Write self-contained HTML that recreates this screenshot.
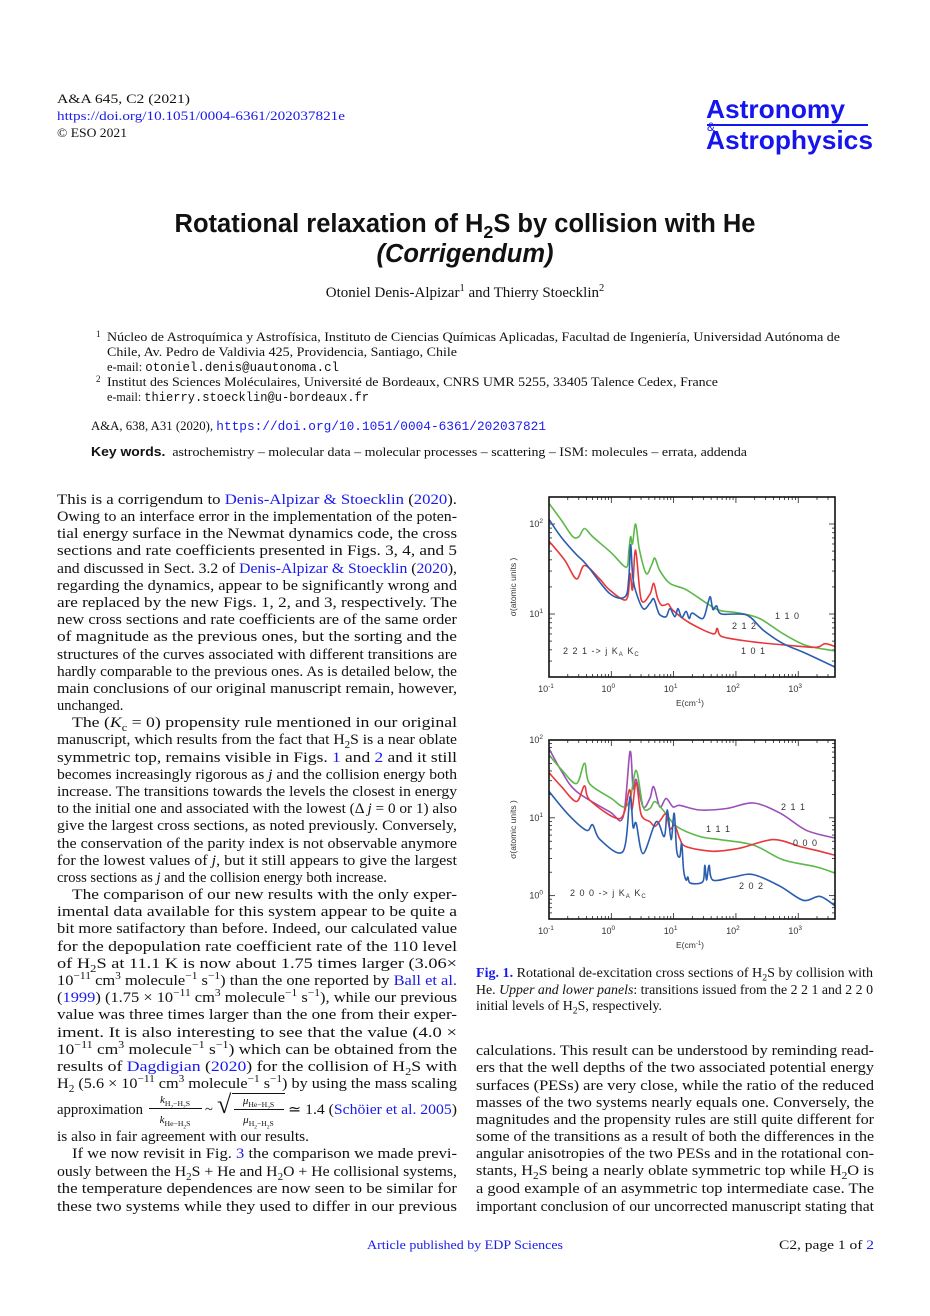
<!DOCTYPE html>
<html><head><meta charset="utf-8">
<style>
html,body{margin:0;padding:0;background:#fff;}
body{width:930px;height:1316px;position:relative;overflow:hidden;font-family:"Liberation Serif",serif;color:#111;}
.a{position:absolute;white-space:nowrap;line-height:18px;}
.fit{display:inline-block;transform-origin:0 50%;}
.b{font-size:14.5px;}
.lk{color:#1a1aee;}
.sm{font-size:13px;}
sub,sup{font-size:70%;line-height:0;}
.mono{font-family:"Liberation Mono",monospace;}
.sans{font-family:"Liberation Sans",sans-serif;}
.fr{position:absolute;font-size:11px;line-height:12px;text-align:center;}
</style></head>
<body>

<div class="a sm" style="left:57px;top:90px"><span class="fit" data-w="133">A&amp;A 645, C2 (2021)</span></div>
<div class="a sm lk" style="left:57px;top:107px"><span class="fit" data-w="288">https://doi.org/10.1051/0004-6361/202037821e</span></div>
<div class="a sm" style="left:57px;top:124px"><span class="fit" data-w="70">© ESO 2021</span></div>

<div>
<div class="a sans" style="left:706px;top:95px;font-size:26px;line-height:28px;color:#1515ee;font-weight:bold"><span class="fit" data-w="139">Astronomy</span></div>
<div style="position:absolute;left:707px;top:124px;width:161px;height:2px;background:#1515ee"></div>
<div class="a sans" style="left:707px;top:118px;font-size:12px;color:#1515ee">&amp;</div>
<div class="a sans" style="left:706px;top:126px;font-size:26px;line-height:28px;color:#1515ee;font-weight:bold"><span class="fit" data-w="167">Astrophysics</span></div>
</div>

<div class="a sans" style="left:0;width:930px;text-align:center;top:209px;font-size:25.5px;line-height:30px;font-weight:bold">Rotational relaxation of H<sub>2</sub>S by collision with He</div>
<div class="a sans" style="left:0;width:930px;text-align:center;top:239px;font-size:25.5px;line-height:30px;font-weight:bold;font-style:italic">(Corrigendum)</div>
<div class="a" style="left:0;width:930px;text-align:center;top:284px;font-size:15px">Otoniel Denis-Alpizar<sup>1</sup> and Thierry Stoecklin<sup>2</sup></div>

<div>
<div class="a" style="left:96px;top:325px;font-size:9px">1</div>
<div class="a sm" style="left:107px;top:328px"><span class="fit" data-w="733">Núcleo de Astroquímica y Astrofísica, Instituto de Ciencias Químicas Aplicadas, Facultad de Ingeniería, Universidad Autónoma de</span></div>
<div class="a sm" style="left:107px;top:343px"><span class="fit" data-w="350">Chile, Av. Pedro de Valdivia 425, Providencia, Santiago, Chile</span></div>
<div class="a sm" style="left:107px;top:358px"><span class="fit" data-w="232">e-mail: <span class="mono">otoniel.denis@uautonoma.cl</span></span></div>
<div class="a" style="left:96px;top:370px;font-size:9px">2</div>
<div class="a sm" style="left:107px;top:373px"><span class="fit" data-w="611">Institut des Sciences Moléculaires, Université de Bordeaux, CNRS UMR 5255, 33405 Talence Cedex, France</span></div>
<div class="a sm" style="left:107px;top:388px"><span class="fit" data-w="262">e-mail: <span class="mono">thierry.stoecklin@u-bordeaux.fr</span></span></div>
</div>
<div class="a sm" style="left:91px;top:417px"><span class="fit" data-w="455">A&amp;A, 638, A31 (2020), <span class="mono lk">https://doi.org/10.1051/0004-6361/202037821</span></span></div>
<div class="a sm" style="left:91px;top:443px"><span class="fit" data-w="656"><b class="sans">Key words.</b>&nbsp; astrochemistry – molecular data – molecular processes – scattering – ISM: molecules – errata, addenda</span></div>

<div>
<div class="a b" style="left:57px;top:491px"><span class="fit" data-w="400">This is a corrigendum to <span class="lk">Denis-Alpizar &amp; Stoecklin</span> (<span class="lk">2020</span>).</span></div>
<div class="a b" style="left:57px;top:508px"><span class="fit" data-w="400">Owing to an interface error in the implementation of the poten-</span></div>
<div class="a b" style="left:57px;top:525px"><span class="fit" data-w="400">tial energy surface in the Newmat dynamics code, the cross</span></div>
<div class="a b" style="left:57px;top:542px"><span class="fit" data-w="400">sections and rate coefficients presented in Figs. 3, 4, and 5</span></div>
<div class="a b" style="left:57px;top:560px"><span class="fit" data-w="400">and discussed in Sect. 3.2 of <span class="lk">Denis-Alpizar &amp; Stoecklin</span> (<span class="lk">2020</span>),</span></div>
<div class="a b" style="left:57px;top:577px"><span class="fit" data-w="400">regarding the dynamics, appear to be significantly wrong and</span></div>
<div class="a b" style="left:57px;top:594px"><span class="fit" data-w="400">are replaced by the new Figs. 1, 2, and 3, respectively. The</span></div>
<div class="a b" style="left:57px;top:611px"><span class="fit" data-w="400">new cross sections and rate coefficients are of the same order</span></div>
<div class="a b" style="left:57px;top:628px"><span class="fit" data-w="400">of magnitude as the previous ones, but the sorting and the</span></div>
<div class="a b" style="left:57px;top:646px"><span class="fit" data-w="400">structures of the curves associated with different transitions are</span></div>
<div class="a b" style="left:57px;top:663px"><span class="fit" data-w="400">hardly comparable to the previous ones. As is detailed below, the</span></div>
<div class="a b" style="left:57px;top:680px"><span class="fit" data-w="400">main conclusions of our original manuscript remain, however,</span></div>
<div class="a b" style="left:57px;top:697px">unchanged.</div>
<div class="a b" style="left:72px;top:714px"><span class="fit" data-w="385">The (<i>K</i><sub>c</sub> = 0) propensity rule mentioned in our original</span></div>
<div class="a b" style="left:57px;top:731px"><span class="fit" data-w="400">manuscript, which results from the fact that H<sub>2</sub>S is a near oblate</span></div>
<div class="a b" style="left:57px;top:749px"><span class="fit" data-w="400">symmetric top, remains visible in Figs. <span class="lk">1</span> and <span class="lk">2</span> and it still</span></div>
<div class="a b" style="left:57px;top:766px"><span class="fit" data-w="400">becomes increasingly rigorous as <i>j</i> and the collision energy both</span></div>
<div class="a b" style="left:57px;top:783px"><span class="fit" data-w="400">increase. The transitions towards the levels the closest in energy</span></div>
<div class="a b" style="left:57px;top:800px"><span class="fit" data-w="400">to the initial one and associated with the lowest (Δ <i>j</i> = 0 or 1) also</span></div>
<div class="a b" style="left:57px;top:817px"><span class="fit" data-w="400">give the largest cross sections, as noted previously. Conversely,</span></div>
<div class="a b" style="left:57px;top:835px"><span class="fit" data-w="400">the conservation of the parity index is not observable anymore</span></div>
<div class="a b" style="left:57px;top:852px"><span class="fit" data-w="400">for the lowest values of <i>j</i>, but it still appears to give the largest</span></div>
<div class="a b" style="left:57px;top:869px">cross sections as <i>j</i> and the collision energy both increase.</div>
<div class="a b" style="left:72px;top:886px"><span class="fit" data-w="385">The comparison of our new results with the only exper-</span></div>
<div class="a b" style="left:57px;top:903px"><span class="fit" data-w="400">imental data available for this system appear to be quite a</span></div>
<div class="a b" style="left:57px;top:920px"><span class="fit" data-w="400">bit more satifactory than before. Indeed, our calculated value</span></div>
<div class="a b" style="left:57px;top:938px"><span class="fit" data-w="400">for the depopulation rate coefficient rate of the 110 level</span></div>
<div class="a b" style="left:57px;top:955px"><span class="fit" data-w="400">of H<sub>2</sub>S at 11.1 K is now about 1.75 times larger (3.06×</span></div>
<div class="a b" style="left:57px;top:972px"><span class="fit" data-w="400">10<sup>−11</sup> cm<sup>3</sup> molecule<sup>−1</sup> s<sup>−1</sup>) than the one reported by <span class="lk">Ball et al.</span></span></div>
<div class="a b" style="left:57px;top:989px"><span class="fit" data-w="400">(<span class="lk">1999</span>) (1.75 × 10<sup>−11</sup> cm<sup>3</sup> molecule<sup>−1</sup> s<sup>−1</sup>), while our previous</span></div>
<div class="a b" style="left:57px;top:1006px"><span class="fit" data-w="400">value was three times larger than the one from their exper-</span></div>
<div class="a b" style="left:57px;top:1024px"><span class="fit" data-w="400">iment. It is also interesting to see that the value (4.0 ×</span></div>
<div class="a b" style="left:57px;top:1041px"><span class="fit" data-w="400">10<sup>−11</sup> cm<sup>3</sup> molecule<sup>−1</sup> s<sup>−1</sup>) which can be obtained from the</span></div>
<div class="a b" style="left:57px;top:1058px"><span class="fit" data-w="400">results of <span class="lk">Dagdigian</span> (<span class="lk">2020</span>) for the collision of H<sub>2</sub>S with</span></div>
<div class="a b" style="left:57px;top:1075px"><span class="fit" data-w="400">H<sub>2</sub> (5.6 × 10<sup>−11</sup> cm<sup>3</sup> molecule<sup>−1</sup> s<sup>−1</sup>) by using the mass scaling</span></div>
<div>
<div class="a b" style="left:57px;top:1101px"><span class="fit" data-w="86">approximation</span></div>
<div class="fr" style="left:146px;top:1094px;width:58px"><i>k</i><sub>H<sub>2</sub>−H<sub>2</sub>S</sub></div>
<div style="position:absolute;left:149px;top:1108px;width:53px;height:1px;background:#111"></div>
<div class="fr" style="left:146px;top:1114px;width:58px"><i>k</i><sub>He−H<sub>2</sub>S</sub></div>
<div class="a b" style="left:205px;top:1101px">~</div>
<div class="a" style="left:217px;top:1090px;font-size:26px;line-height:30px">√</div>
<div style="position:absolute;left:232px;top:1093px;width:53px;height:1px;background:#111"></div>
<div class="fr" style="left:230px;top:1095px;width:57px"><i>μ</i><sub>He−H<sub>2</sub>S</sub></div>
<div style="position:absolute;left:234px;top:1109px;width:50px;height:1px;background:#111"></div>
<div class="fr" style="left:230px;top:1114px;width:57px"><i>μ</i><sub>H<sub>2</sub>−H<sub>2</sub>S</sub></div>
<div class="a b" style="left:288px;top:1101px"><span class="fit" data-w="169">≃ 1.4 (<span class="lk">Schöier et al. 2005</span>)</span></div>
</div>
<div class="a b" style="left:57px;top:1128px"><span class="fit" data-w="252">is also in fair agreement with our results.</span></div>
<div class="a b" style="left:72px;top:1145px"><span class="fit" data-w="385">If we now revisit in Fig. <span class="lk">3</span> the comparison we made previ-</span></div>
<div class="a b" style="left:57px;top:1163px"><span class="fit" data-w="400">ously between the H<sub>2</sub>S + He and H<sub>2</sub>O + He collisional systems,</span></div>
<div class="a b" style="left:57px;top:1180px"><span class="fit" data-w="400">the temperature dependences are now seen to be similar for</span></div>
<div class="a b" style="left:57px;top:1198px"><span class="fit" data-w="400">these two systems while they used to differ in our previous</span></div>
</div>

<div>
<div class="a" style="left:476px;top:964px;font-size:13.5px"><span class="fit" data-w="397"><b class="lk">Fig. 1.</b> Rotational de-excitation cross sections of H<sub>2</sub>S by collision with</span></div>
<div class="a" style="left:476px;top:981px;font-size:13.5px"><span class="fit" data-w="397">He. <i>Upper and lower panels</i>: transitions issued from the 2 2 1 and 2 2 0</span></div>
<div class="a" style="left:476px;top:997px;font-size:13.5px"><span class="fit" data-w="186">initial levels of H<sub>2</sub>S, respectively.</span></div>
</div>
<div>
<div class="a b" style="left:476px;top:1042px"><span class="fit" data-w="398">calculations. This result can be understood by reminding read-</span></div>
<div class="a b" style="left:476px;top:1059px"><span class="fit" data-w="398">ers that the well depths of the two associated potential energy</span></div>
<div class="a b" style="left:476px;top:1077px"><span class="fit" data-w="398">surfaces (PESs) are very close, while the ratio of the reduced</span></div>
<div class="a b" style="left:476px;top:1094px"><span class="fit" data-w="398">masses of the two systems nearly equals one. Conversely, the</span></div>
<div class="a b" style="left:476px;top:1111px"><span class="fit" data-w="398">magnitudes and the propensity rules are still quite different for</span></div>
<div class="a b" style="left:476px;top:1128px"><span class="fit" data-w="398">some of the transitions as a result of both the differences in the</span></div>
<div class="a b" style="left:476px;top:1145px"><span class="fit" data-w="398">angular anisotropies of the two PESs and in the rotational con-</span></div>
<div class="a b" style="left:476px;top:1162px"><span class="fit" data-w="398">stants, H<sub>2</sub>S being a nearly oblate symmetric top while H<sub>2</sub>O is</span></div>
<div class="a b" style="left:476px;top:1180px"><span class="fit" data-w="398">a good example of an asymmetric top intermediate case. The</span></div>
<div class="a b" style="left:476px;top:1198px"><span class="fit" data-w="398">important conclusion of our uncorrected manuscript stating that</span></div>
</div>

<div class="a sm lk" style="left:367px;top:1236px"><span class="fit" data-w="196">Article published by EDP Sciences</span></div>
<div class="a sm" style="left:779px;top:1236px"><span class="fit" data-w="95">C2, page 1 of <span class="lk">2</span></span></div>

<svg id="charts" width="930" height="1316" style="position:absolute;left:0;top:0" xmlns="http://www.w3.org/2000/svg"></svg>

<script>
// ---- data (log10 E [cm^-1], log10 sigma [a.u.]) ----
const top110LogE = [-1,-0.8,-0.62,-0.52,-0.43,-0.3,0,0.24,0.28,0.31,0.34,0.39,0.45,0.56,0.65,0.70,0.78,0.94,1.2,1.53,1.74,2.06,2.38,2.76,3.13,3.59];
const top110LogS = [2.23,2.04,1.86,1.86,1.95,1.86,1.68,1.52,1.70,1.86,1.78,2.0,1.72,1.45,1.55,1.62,1.48,1.34,1.27,1.12,1.04,1.01,0.95,0.78,0.65,0.59];
const top212LogE = [-1,-0.8,-0.56,-0.4,-0.03,0.22,0.28,0.31,0.34,0.38,0.51,0.62,0.68,0.74,0.78,0.88,0.94,1.02,1.07,1.13,1.2,1.25,1.3,1.47,1.55,1.59,1.63,1.69,1.77,2.17,2.44,2.76,3.13,3.59];
const top212LogS = [2.05,1.85,1.66,1.55,1.23,1.19,1.4,1.77,1.45,1.28,1.06,1.12,1.17,1.05,0.99,0.97,1.06,0.97,1.06,0.96,1.03,0.95,1.01,0.95,1.12,1.19,1.05,1.09,1.0,0.99,0.82,0.67,0.56,0.41];
const top101LogE = [-1,-0.75,-0.56,-0.43,-0.2,-0.03,0.24,0.30,0.34,0.39,0.48,0.62,0.68,0.74,0.80,0.86,0.92,0.99,1.26,1.63,1.70,1.77,2.28,2.87,3.29,3.43,3.59];
const top101LogS = [1.81,1.60,1.39,1.54,1.40,1.27,1.16,1.45,1.27,1.71,1.16,1.22,1.34,1.18,1.10,1.10,1.11,1.04,0.90,0.78,0.84,0.75,0.69,0.65,0.63,0.67,0.64];
const bot211LogE = [-1,-0.8,-0.56,-0.03,0.19,0.30,0.35,0.40,0.51,0.62,0.68,0.78,0.88,0.99,1.10,1.42,1.85,2.28,2.71,3.13,3.59];
const bot211LogS = [1.89,1.60,1.34,1.08,1.01,1.85,1.38,1.49,1.14,1.25,1.40,1.14,1.25,1.14,1.16,1.10,1.12,1.19,1.06,0.84,0.74];
const bot111LogE = [-1,-0.8,-0.56,-0.43,-0.35,0,0.19,0.30,0.40,0.51,0.62,0.70,0.83,1.05,1.42,1.74,2.28,2.76,3.29,3.59];
const bot111LogS = [1.81,1.62,1.44,1.70,1.44,1.25,1.14,1.23,1.61,1.14,1.12,1.21,1.10,0.89,0.76,0.72,0.65,0.46,0.37,0.29];
const bot000LogE = [-1,-0.8,-0.56,-0.43,-0.35,0.14,0.29,0.33,0.40,0.48,0.62,0.70,0.78,0.88,0.94,1.02,1.10,1.2,1.63,2.06,2.6,3.03,3.35,3.59];
const bot000LogS = [1.58,1.40,1.21,1.41,1.23,0.99,1.36,1.10,1.45,1.04,0.95,0.89,0.96,1.05,0.86,0.90,0.73,0.63,0.57,0.61,0.72,0.63,0.57,0.52];
const bot202LogE = [-1,-0.7,-0.40,-0.30,-0.18,0.19,0.30,0.35,0.40,0.51,0.72,0.85,0.90,0.96,1.01,1.05,1.10,1.13,1.16,1.2,1.23,1.27,1.47,1.50,1.53,1.57,1.63,1.96,2.28,2.71,3.08,3.35,3.59];
const bot202LogS = [1.34,1.05,0.84,0.91,0.72,0.57,1.27,0.88,0.93,0.54,0.95,0.76,1.10,0.72,1.06,0.58,0.50,0.67,0.33,0.20,0.24,0.16,0.18,0.39,0.20,0.39,0.20,0.24,0.27,0.12,-0.06,-0.01,-0.13];
const xTickExp = [-1,0,1,2,3];
const topYTickExp = [1,2];
const botYTickExp = [0,1,2];

const NS='http://www.w3.org/2000/svg';
const svg=document.getElementById('charts');
function mk(tag,attrs,parent){const e=document.createElementNS(NS,tag);for(const k in attrs)e.setAttribute(k,attrs[k]);(parent||svg).appendChild(e);return e;}
const X0=549,X1=835,XMIN=-1,XMAX=3.59;
function xs(v){return X0+(v-XMIN)*(X1-X0)/(XMAX-XMIN);}
function smoothPath(P){
  let d='M'+P[0][0].toFixed(1)+','+P[0][1].toFixed(1);
  for(let i=0;i<P.length-1;i++){
    const p0=P[Math.max(0,i-1)],p1=P[i],p2=P[i+1],p3=P[Math.min(P.length-1,i+2)];
    const t=0.16;
    const c1=[p1[0]+(p2[0]-p0[0])*t,p1[1]+(p2[1]-p0[1])*t];
    const c2=[p2[0]-(p3[0]-p1[0])*t,p2[1]-(p3[1]-p1[1])*t];
    c1[0]=Math.min(Math.max(c1[0],p1[0]),p2[0]);c2[0]=Math.min(Math.max(c2[0],p1[0]),p2[0]);
    d+=' C'+c1[0].toFixed(1)+','+c1[1].toFixed(1)+' '+c2[0].toFixed(1)+','+c2[1].toFixed(1)+' '+p2[0].toFixed(1)+','+p2[1].toFixed(1);
  }
  return d;
}

function panel(name,top,bot,ymin,ymax,yTicks,series,labels){
  const g=mk('g',{});
  
  
  const ys=v=>bot-(v-ymin)*(bot-top)/(ymax-ymin);
  for(let d=-1;d<=3;d++){for(let k=1;k<=9;k++){const v=d+Math.log10(k);if(v<XMIN||v>XMAX)continue;const L=k===1?6:3;const x=xs(v);
    mk('line',{x1:x,x2:x,y1:bot,y2:bot-L,stroke:'#222','stroke-width':0.8},g);mk('line',{x1:x,x2:x,y1:top,y2:top+L,stroke:'#222','stroke-width':0.8},g);}}
  for(let d=-1;d<=2;d++){for(let k=1;k<=9;k++){const v=d+Math.log10(k);if(v<ymin||v>ymax)continue;const L=k===1?6:3;const y=ys(v);
    mk('line',{x1:X0,x2:X0+L,y1:y,y2:y,stroke:'#222','stroke-width':0.8},g);mk('line',{x1:X1,x2:X1-L,y1:y,y2:y,stroke:'#222','stroke-width':0.8},g);}}
  series.forEach(s=>{
    const P=s.e.map((v,i)=>[xs(v),ys(s.s[i])]);
    const p=mk('path',{d:smoothPath(P),fill:'none',stroke:s.c,'stroke-width':1.6,'stroke-linejoin':'round'},g);
    
    
  });
  mk('rect',{x:X0,y:top,width:X1-X0,height:bot-top,fill:'none',stroke:'#111','stroke-width':1.6},g);
  xTickExp.forEach(ex=>{const t=mk('text',{x:xs(ex)-3,y:bot+15,'font-size':9,'font-family':'Liberation Sans, sans-serif',fill:'#333','text-anchor':'middle'},g);
    
    
    t.appendChild(document.createTextNode('10'));const sp=mk('tspan',{dy:-4,'font-size':6.5},t);sp.textContent=String(ex);});
  yTicks.forEach(ex=>{const t=mk('text',{x:X0-6,y:ys(ex)+3,'font-size':9,'font-family':'Liberation Sans, sans-serif',fill:'#333','text-anchor':'end'},g);
    
    
    t.appendChild(document.createTextNode('10'));const sp=mk('tspan',{dy:-4,'font-size':6.5},t);sp.textContent=String(ex);});
  const xt=mk('text',{x:690,y:bot+29,'font-size':8.5,'font-family':'Liberation Sans, sans-serif',fill:'#333','text-anchor':'middle'},g);
  
  
  xt.appendChild(document.createTextNode('E(cm'));const sx=mk('tspan',{dy:-3,'font-size':6},xt);sx.textContent='-1';const sx2=mk('tspan',{dy:3},xt);sx2.textContent=')';
  const cy=(top+bot)/2;
  const yt=mk('text',{x:516,y:cy,'font-size':8.5,'font-family':'Liberation Sans, sans-serif',fill:'#333','text-anchor':'middle',transform:'rotate(-90 516 '+cy+')'},g);
  
  
  yt.textContent='σ(atomic units )';
  labels.forEach(l=>{const t=mk('text',{x:l[1],y:l[2],'font-size':9,'font-family':'Liberation Sans, sans-serif',fill:'#333','letter-spacing':'1'},g);
    
    
    t.textContent=l[0];
    if(l[3]){const a=mk('tspan',{},t);a.textContent=' K';const b=mk('tspan',{dy:2,'font-size':6},t);b.textContent='A';const c=mk('tspan',{dy:-2},t);c.textContent=' K';const d=mk('tspan',{dy:2,'font-size':6},t);d.textContent='C';}
  });
}
panel('upper-panel-221',497,677,0.3,2.3,topYTickExp,[
  {n:'curve-110',c:'#5cb84a',e:top110LogE,s:top110LogS},
  {n:'curve-101',c:'#e8383d',e:top101LogE,s:top101LogS},
  {n:'curve-212',c:'#2a5db0',e:top212LogE,s:top212LogS}
],[['1 1 0',775,619],['2 1 2',732,629],['1 0 1',741,654],['2 2 1 -> j',563,654,true]]);
panel('lower-panel-200',740,919,-0.3,2.0,botYTickExp,[
  {n:'curve-211',c:'#9b4fb8',e:bot211LogE,s:bot211LogS},
  {n:'curve-111',c:'#5cb84a',e:bot111LogE,s:bot111LogS},
  {n:'curve-000',c:'#e8383d',e:bot000LogE,s:bot000LogS},
  {n:'curve-202',c:'#2a5db0',e:bot202LogE,s:bot202LogS}
],[['2 1 1',781,810],['1 1 1',706,832],['0 0 0',793,846],['2 0 2',739,889],['2 0 0 -> j',570,896,true]]);

document.querySelectorAll('.fit').forEach(el=>{const w=+el.getAttribute('data-w');const cw=el.getBoundingClientRect().width;if(cw>0)el.style.transform='scaleX('+(w/cw)+')';});
</script>
</body></html>
